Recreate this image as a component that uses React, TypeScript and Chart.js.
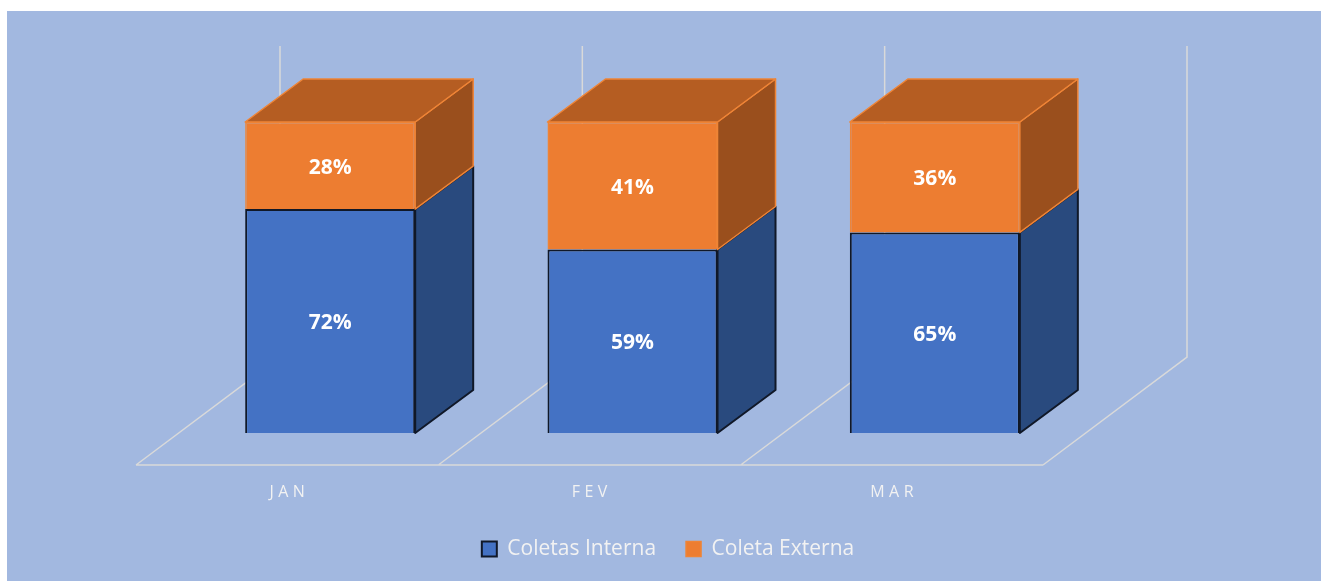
import React, { useEffect, useRef } from 'react';
import { Chart, registerables } from 'chart.js';

Chart.register(...registerables);

const CATEGORIES = ['JAN', 'FEV', 'MAR'];
const SERIES_NAMES = ['Coletas Interna', 'Coleta Externa'];
const INTERNA = [72, 59, 64.5];
const EXTERNA = [28, 41, 35.5];
const Y_MAX = 100;

const BG = '#A2B8E0';
const GRID = '#D9D9D9';
const FRONT_COLORS = ['#4472C4', '#ED7D31'];
const SIDE_COLORS = ['#294A7E', '#9A4F1D'];
const TOP_COLORS = ['#2F5597', '#B55D22'];
const BORDER_COLORS = ['#101828', '#EF8436'];
const BORDER_WIDTHS = [2, 1.5];
const TEXT = '#F2F2F2';
const FONT = '"Open Sans", "Noto Sans", sans-serif';

// 3D projection offsets (pixels)
const FLOOR_FRONT = { dx: -43, dy: 32 };
const FLOOR_BACK = { dx: 101, dy: -76 };
const BAR_DEPTH = { dx: 58, dy: -43 };

const depthPlugin = {
  id: 'depth3d',
  beforeDatasetsDraw(chart: any) {
    const { ctx, chartArea, scales } = chart;
    const y = scales.y;
    const n = CATEGORIES.length;
    const w = (chartArea.right - chartArea.left) / n;
    const y0 = y.getPixelForValue(0);
    const y1 = y.getPixelForValue(Y_MAX);
    ctx.save();
    ctx.strokeStyle = GRID;
    ctx.lineWidth = 1.5;
    ctx.beginPath();
    ctx.moveTo(chartArea.left + FLOOR_FRONT.dx, y0 + FLOOR_FRONT.dy);
    ctx.lineTo(chartArea.right + FLOOR_FRONT.dx, y0 + FLOOR_FRONT.dy);
    for (let k = 0; k <= n; k++) {
      const bx = chartArea.left + k * w;
      ctx.moveTo(bx + FLOOR_FRONT.dx, y0 + FLOOR_FRONT.dy);
      ctx.lineTo(bx + FLOOR_BACK.dx, y0 + FLOOR_BACK.dy);
      ctx.lineTo(bx + FLOOR_BACK.dx, y1 + FLOOR_BACK.dy);
    }
    ctx.stroke();
    ctx.restore();
  },
  afterDatasetsDraw(chart: any) {
    const { ctx, scales } = chart;
    const y = scales.y;
    const x = scales.x;
    const y0 = y.getPixelForValue(0);
    const nds = chart.data.datasets.length;
    ctx.save();
    ctx.lineJoin = 'round';
    for (let i = 0; i < CATEGORIES.length; i++) {
      for (let d = 0; d < nds; d++) {
        const el = chart.getDatasetMeta(d).data[i];
        const left = el.x - el.width / 2;
        const right = el.x + el.width / 2;
        const top = Math.min(el.y, el.base);
        const bottom = Math.max(el.y, el.base);
        ctx.lineWidth = BORDER_WIDTHS[d];
        ctx.strokeStyle = BORDER_COLORS[d];
        // side face
        ctx.beginPath();
        ctx.moveTo(right, top);
        ctx.lineTo(right + BAR_DEPTH.dx, top + BAR_DEPTH.dy);
        ctx.lineTo(right + BAR_DEPTH.dx, bottom + BAR_DEPTH.dy);
        ctx.lineTo(right, bottom);
        ctx.closePath();
        ctx.fillStyle = SIDE_COLORS[d];
        ctx.fill();
        ctx.stroke();
        if (d === nds - 1) {
          ctx.beginPath();
          ctx.moveTo(left, top);
          ctx.lineTo(left + BAR_DEPTH.dx, top + BAR_DEPTH.dy);
          ctx.lineTo(right + BAR_DEPTH.dx, top + BAR_DEPTH.dy);
          ctx.lineTo(right, top);
          ctx.closePath();
          ctx.fillStyle = TOP_COLORS[d];
          ctx.fill();
          ctx.stroke();
        }
      }
    }
    // value labels
    ctx.fillStyle = '#FFFFFF';
    ctx.font = `bold 21px ${FONT}`;
    ctx.textAlign = 'center';
    ctx.textBaseline = 'middle';
    for (let d = 0; d < nds; d++) {
      const meta = chart.getDatasetMeta(d);
      const vals = chart.data.datasets[d].data as number[];
      meta.data.forEach((el: any, i: number) => {
        const cy = (el.y + el.base) / 2 + 2;
        ctx.fillText(Math.round(vals[i]) + '%', el.x, cy);
      });
    }
    // category labels on floor front
    ctx.fillStyle = TEXT;
    ctx.font = `16px ${FONT}`;
    const spacing = 4.5;
    (ctx as any).letterSpacing = spacing + 'px';
    CATEGORIES.forEach((c, i) => {
      const cx = x.getPixelForValue(i) + FLOOR_FRONT.dx + spacing / 2;
      ctx.fillText(c, cx, y0 + 59);
    });
    (ctx as any).letterSpacing = '0px';
    ctx.restore();
  },
};

export default function App() {
  const ref = useRef<HTMLCanvasElement | null>(null);
  useEffect(() => {
    if (!ref.current) return;
    const chart = new Chart(ref.current, {
      type: 'bar',
      data: {
        labels: CATEGORIES,
        datasets: [
          {
            label: SERIES_NAMES[0],
            data: INTERNA,
            backgroundColor: FRONT_COLORS[0],
            borderColor: BORDER_COLORS[0],
            borderWidth: BORDER_WIDTHS[0],
          },
          {
            label: SERIES_NAMES[1],
            data: EXTERNA,
            backgroundColor: FRONT_COLORS[1],
            borderColor: BORDER_COLORS[1],
            borderWidth: BORDER_WIDTHS[1],
          },
        ],
      },
      options: {
        animation: false,
        responsive: true,
        maintainAspectRatio: false,
        layout: { padding: { left: 8, right: 0, top: 111, bottom: 11.5 } },
        datasets: { bar: { barPercentage: 0.5624, categoryPercentage: 1 } },
        scales: {
          x: {
            stacked: true,
            display: true,
            grid: { display: false },
            border: { display: false },
            ticks: { display: false },
            afterFit: (s: any) => {
              s.height = 75.5;
            },
          },
          y: {
            stacked: true,
            display: true,
            position: 'left',
            min: 0,
            max: Y_MAX,
            grid: { display: false },
            border: { display: false },
            ticks: { display: false },
            afterFit: (s: any) => {
              s.width = 164;
            },
          },
          yRight: {
            type: 'linear',
            display: true,
            position: 'right',
            grid: { display: false },
            border: { display: false },
            ticks: { display: false },
            afterFit: (s: any) => {
              s.width = 235;
            },
          },
        },
        plugins: {
          tooltip: { enabled: false },
          legend: {
            position: 'bottom',
            labels: {
              boxWidth: 15,
              boxHeight: 15,
              padding: 30,
              color: TEXT,
              font: { size: 21, family: FONT },
            },
          },
        },
      },
      plugins: [depthPlugin],
    });
    return () => chart.destroy();
  }, []);
  return (
    <div
      style={{
        position: 'absolute',
        left: 7,
        top: 11,
        width: 1314,
        height: 570,
        background: BG,
      }}
    >
      <canvas ref={ref} />
    </div>
  );
}
